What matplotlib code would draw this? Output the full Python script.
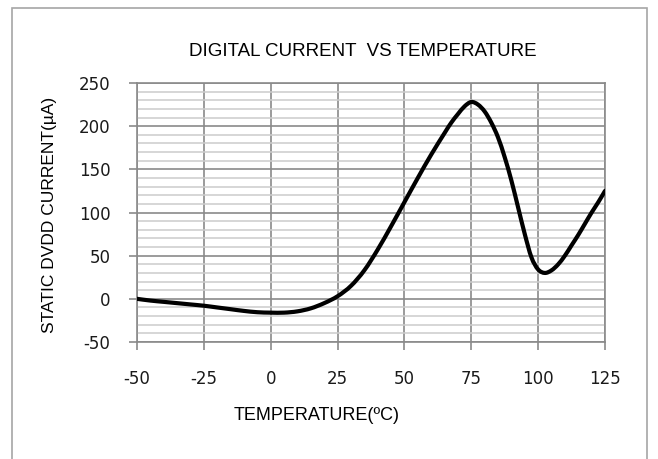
import matplotlib
matplotlib.use("Agg")
import numpy as np
import matplotlib.pyplot as plt
from matplotlib.patches import Rectangle, PathPatch
from matplotlib.path import Path
from matplotlib.ticker import MultipleLocator

# values
temp = [-50, -45, -40, -35, -30, -25, -20, -15, -10, -5, 0, 5, 10, 15, 20,
        25, 30, 35, 40, 45, 50, 55, 60, 65, 67.5, 70, 72.5, 75, 77.5, 80, 82.5, 85,
        87.5, 90, 92.5, 95, 97.5, 100, 102.5, 105, 107.5, 110, 112.5, 115, 117.5,
        120, 122.5, 125]
current = [0, -2, -3.5, -5, -6.5, -8, -10, -12, -14, -15.5, -16, -16, -14.5, -11, -5,
           3, 15, 33, 57, 84, 112, 140, 167, 192, 204, 214, 223, 228, 225, 217, 204, 187,
           164, 137, 106, 75, 48, 34, 30, 33, 40, 50, 62, 74, 87,
           100, 112, 125]

x_ticks = [-50, -25, 0, 25, 50, 75, 100, 125]
y_ticks = [-50, 0, 50, 100, 150, 200, 250]

plt.rcParams['axes.unicode_minus'] = False

fig = plt.figure(figsize=(6.58, 4.59), dpi=100)
ax = fig.add_axes([137 / 658, 1 - 342 / 459, (605 - 137) / 658, (342 - 83) / 459])

# outer chart border
fig.patches.append(Rectangle((12 / 658, -0.05), 635 / 658, 1.05 - 8 / 459,
                             transform=fig.transFigure, fill=False,
                             edgecolor="#a6a6a6", linewidth=1.2))

# smoothed line like the spreadsheet's "smooth line" option (bezier through the points)
pts = np.column_stack([temp, current]).astype(float)
verts = [pts[0]]
codes = [Path.MOVETO]
n = len(pts)
for i in range(n - 1):
    p0 = pts[i - 1] if i > 0 else pts[i]
    p1 = pts[i]
    p2 = pts[i + 1]
    p3 = pts[i + 2] if i + 2 < n else pts[i + 1]
    verts += [p1 + (p2 - p0) / 6, p2 - (p3 - p1) / 6, p2]
    codes += [Path.CURVE4] * 3
ax.add_patch(PathPatch(Path(verts, codes), facecolor="none", edgecolor="black",
                       linewidth=3, joinstyle="round", capstyle="round", zorder=3))

ax.set_xlim(-50, 125)
ax.set_ylim(-50, 250)
ax.set_xticks(x_ticks)
ax.set_yticks(y_ticks)
ax.yaxis.set_minor_locator(MultipleLocator(10))

ax.grid(True, which="major", axis="both", color="#8a8a8a", linewidth=1.2)
ax.grid(True, which="minor", axis="y", color="#cccccc", linewidth=1.1)
ax.set_axisbelow(True)

for s in ax.spines.values():
    s.set_color("#8a8a8a")
    s.set_linewidth(1.2)

ax.tick_params(axis="both", which="major", direction="out", length=6, width=1.2,
               color="#8a8a8a", labelsize=12, labelcolor="#1a1a1a")
ax.tick_params(axis="x", pad=14)
ax.tick_params(axis="y", pad=13)
ax.tick_params(axis="y", which="minor", length=0)
for lab in ax.get_xticklabels() + ax.get_yticklabels():
    lab.set_family("DejaVu Sans")

fig.text(363 / 658, 1 - 51 / 459, "DIGITAL CURRENT  VS TEMPERATURE",
         ha="center", va="center", fontsize=13.5, family="Liberation Sans")
fig.text(317 / 658, 1 - 415 / 459, "TEMPERATURE(ºC)", ha="center", va="center",
         fontsize=13, family="Liberation Sans")
fig.text(50 / 658, 1 - 215 / 459, "STATIC DVDD CURRENT(µA)", ha="center", va="center",
         rotation=90, fontsize=12.5, family="Liberation Sans")

fig.savefig("out.png", dpi=100)
